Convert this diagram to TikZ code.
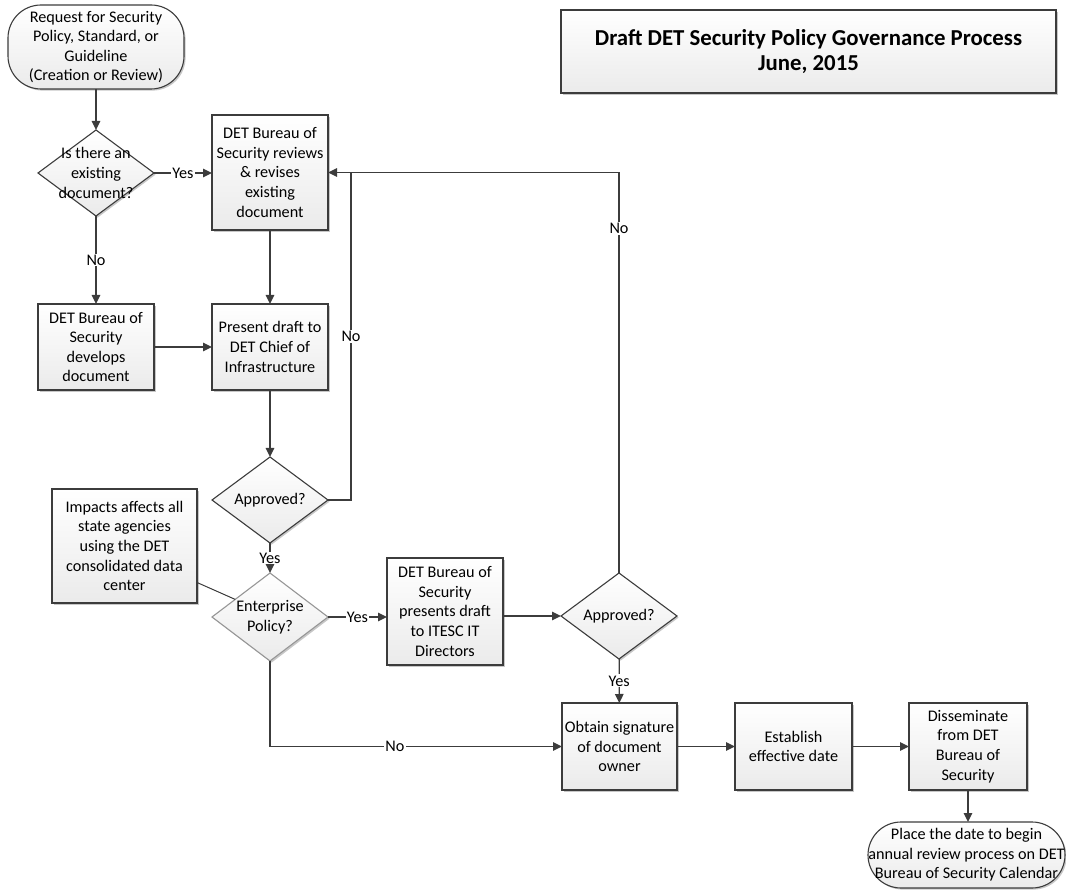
\documentclass[tikz,border=0pt]{standalone}
\usepackage{fontspec}
\setmainfont{Carlito}
\usetikzlibrary{arrows.meta,shapes.geometric,shadows,calc}
\definecolor{linec}{RGB}{60,60,60}
\definecolor{lightline}{RGB}{150,150,150}
\begin{document}
\begin{tikzpicture}[x=1pt,y=-1pt,
  every node/.style={font=\fontsize{16.2}{19.6}\selectfont, text=black, outer sep=0pt},
  shad/.style={drop shadow={shadow xshift=1.6pt,shadow yshift=-1.6pt,fill=black,opacity=0.22}},
  fillgrad/.style={top color=white, bottom color=gray!16},
  box/.style={draw=linec, line width=1.1pt, fillgrad, shad, align=center, inner sep=0pt},
  sz/.style 2 args={minimum width=#1pt, minimum height=#2pt},
  term/.style={box, rounded corners=33pt},
  dia/.style={diamond, draw=linec, line width=1.1pt, fillgrad, shad, inner sep=0pt, aspect=1.3},
  dtext/.style={align=center, inner sep=0pt},
  line/.style={draw=linec, line width=1.3pt},
  arr/.style={line, -{Triangle[length=9pt,width=8.5pt]}},
  lbl/.style={fill=white, inner sep=1.2pt},
  titlebox/.style={box, font=\fontsize{22.8}{25.5}\selectfont\bfseries}
]
\useasboundingbox (0,0) rectangle (1066,890);

% title
\node[titlebox, sz={495}{83}] (title) at (808.5,51.5) {Draft DET Security Policy Governance Process\\June, 2015};

% nodes
\node[term, sz={176}{84}] (start) at (96,47) {Request for Security\\Policy, Standard, or\\Guideline\\(Creation or Review)};
\node[dia, sz={116}{86}] (d1) at (96,173) {};
\node[dtext] (d1t) at (d1) {Is there an\\existing\\document?};
\node[box, sz={116}{115}] (b2) at (270,172.5) {DET Bureau of\\Security reviews\\\& revises\\existing\\document};
\node[box, sz={116}{86}] (b3) at (96,347) {DET Bureau of\\Security\\develops\\document};
\node[box, sz={116}{86}] (b4) at (270,347) {Present draft to\\DET Chief of\\Infrastructure};
\node[dia, sz={116}{86}] (ap1) at (270,500) {};
\node[dtext] (ap1t) at (ap1) {Approved?};
\node[dia, sz={116}{88}, draw=lightline] (ent) at (270,617) {};
\node[dtext] (entt) at (ent) {Enterprise\\Policy?};
\node[box, sz={145}{114}] (ann) at (124.5,546) {Impacts affects all\\state agencies\\using the DET\\consolidated data\\center};
\node[box, sz={116}{107}] (b5) at (445,611.5) {DET Bureau of\\Security\\presents draft\\to ITESC IT\\Directors};
\node[dia, sz={116}{86}] (ap2) at (619,616) {};
\node[dtext] (ap2t) at (ap2) {Approved?};
\node[box, sz={115}{87}] (b6) at (619.5,746.5) {Obtain signature\\of document\\owner};
\node[box, sz={117}{87}] (b7) at (793.5,746.5) {Establish\\effective date};
\node[box, sz={118}{87}] (b8) at (968,746.5) {Disseminate\\from DET\\Bureau of\\Security};
\node[term, sz={197}{66}] (end) at (966.5,855) {Place the date to begin\\annual review process on DET\\Bureau of Security Calendar};

\coordinate (j) at (351,173);

% connectors
\draw[arr] (start) -- (d1);
\draw[arr] (d1.east) -- node[lbl]{Yes} (d1.east -| b2.west);
\draw[arr] (d1) -- node[lbl]{No} (b3);
\draw[arr] (b2) -- (b4);
\draw[arr] (b3) -- (b4);
\draw[arr] (b4) -- (ap1);
\draw[line] (ap1.east) -| node[lbl,pos=0.75]{No} (j);
\draw[arr] (ap2.north) |- node[lbl,pos=0.43]{No} (b2.east);
\draw[arr] (ap1) -- node[lbl]{Yes} (ent);
\draw[arr] (ent.east) -- node[lbl]{Yes} (ent.east -| b5.west);
\draw[arr] (b5.east |- ap2.west) -- (ap2.west);
\draw[arr] (ap2) -- node[lbl]{Yes} (b6);
\draw[arr] (ent.south) |- node[lbl,pos=0.714]{No} (b6.west);
\draw[arr] (b6) -- (b7);
\draw[arr] (b7) -- (b8);
\draw[arr] (b8.south) -- (b8.south |- end.north);
\draw[draw=linec, line width=1pt] ($(ann.north east)!0.82!(ann.south east)$) -- ($(ent.west)!0.4!(ent.north)$);
\end{tikzpicture}
\end{document}
